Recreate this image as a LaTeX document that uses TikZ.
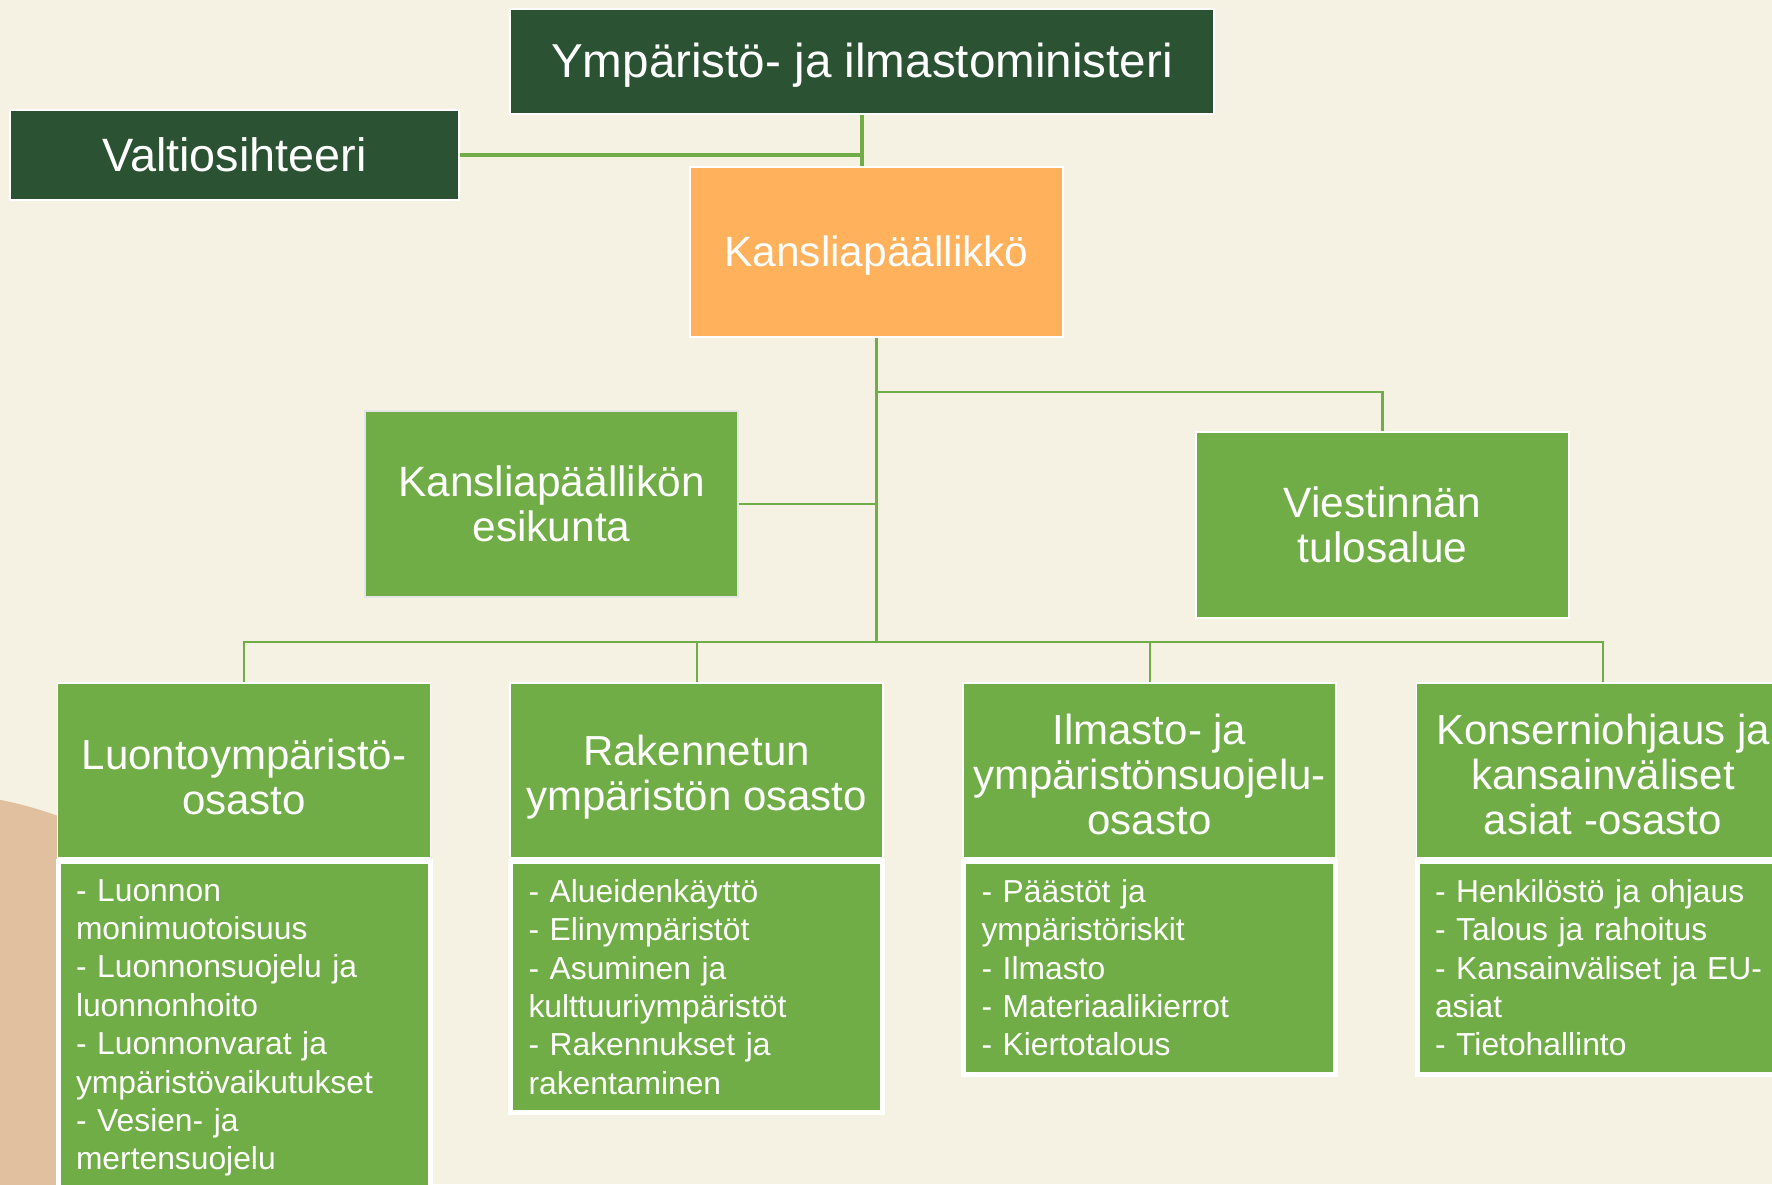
\documentclass[tikz,border=0pt]{standalone}
\usepackage{fontspec}
\setmainfont{Liberation Sans}
\definecolor{bgc}{HTML}{F5F1E3}
\definecolor{tanc}{HTML}{E0C09E}
\definecolor{darkg}{HTML}{2C5234}
\definecolor{midg}{HTML}{70AD47}
\definecolor{orangec}{HTML}{FFB15B}
\newcommand{\tstrut}[1]{\rule{0pt}{#1}}
\tikzset{
  box/.style={draw=white, line width=0.8pt, text=white, align=center, inner sep=0pt},
  topbox/.style={box, fill=darkg, minimum height=52.5pt},
  greenbox/.style={box, fill=midg, minimum width=186.5pt},
  deptbox/.style={greenbox, minimum height=87.5pt, font=\fontsize{21}{22.6}\selectfont},
  listbox/.style={draw=white, line width=2.5pt, fill=midg, text=white, align=left,
    anchor=north, text width=168pt, inner xsep=9pt, inner ysep=9pt,
    font=\fontsize{15.9}{19.2}\selectfont},
  conn/.style={draw=midg, line width=1.3pt},
}
\begin{document}
\begin{tikzpicture}[x=0.5pt,y=-0.5pt]
\useasboundingbox (0,0) rectangle (1772,1184);
\fill[bgc] (0,0) rectangle (1772,1184);
\begin{scope}
\clip (0,0) rectangle (1772,1184);
\fill[tanc] (-80,1200) circle[radius=204pt];

% nodes
\node[topbox, minimum width=352pt, font=\fontsize{23.8}{28}\selectfont] (min) at (862,61.5) {\tstrut{20.5pt}Ympäristö- ja ilmastoministeri};
\node[topbox, minimum width=224.5pt, minimum height=45pt, font=\fontsize{23.4}{28}\selectfont] (valt) at (234.5,155) {Valtiosihteeri};
\node[box, fill=orangec, minimum width=186.5pt, minimum height=85pt, font=\fontsize{21.2}{25}\selectfont] (kp) at (876.5,252) {\tstrut{18.5pt}Kansliapäällikkö};
\node[greenbox, draw=black!10, minimum height=93pt, font=\fontsize{21.2}{22.2}\selectfont] (esk) at (551.5,504) {Kansliapäällikön\\esikunta};
\node[greenbox, minimum height=93pt, font=\fontsize{21.2}{22.2}\selectfont] (vt) at (1382.5,525) {Viestinnän\\tulosalue};

\node[deptbox] (d1) at (244,770.5) {\tstrut{21.5pt}Luontoympäristö-\\osasto};
\node[deptbox] (d2) at (696.5,770.5) {\tstrut{21.5pt}Rakennetun\\ympäristön osasto};
\node[deptbox] (d3) at (1149.5,770.5) {\tstrut{19pt}Ilmasto- ja\\ympäristönsuojelu-\\osasto};
\node[deptbox] (d4) at (1603,770.5) {\tstrut{19pt}Konserniohjaus ja\\kansainväliset\\asiat -osasto};

\node[listbox] (l1) at (d1.south) {- Luonnon\\monimuotoisuus\\- Luonnonsuojelu ja\\luonnonhoito\\- Luonnonvarat ja\\ympäristövaikutukset\\- Vesien- ja\\mertensuojelu};
\node[listbox] (l2) at (d2.south) {- Alueidenkäyttö\\- Elinympäristöt\\- Asuminen ja\\kulttuuriympäristöt\\- Rakennukset ja\\rakentaminen};
\node[listbox] (l3) at (d3.south) {- Päästöt ja\\ympäristöriskit\\- Ilmasto\\- Materiaalikierrot\\- Kiertotalous};
\node[listbox] (l4) at (d4.south) {- Henkilöstö ja ohjaus\\- Talous ja rahoitus\\- Kansainväliset ja EU-\\asiat\\- Tietohallinto};

% connectors
\coordinate (j1) at (876.5,392);
\coordinate (bus) at (876.5,642);
\draw[conn, line width=2.2pt] (valt.east) -- (valt.east -| min.south);
\draw[conn, line width=2pt] (min.south) -- (min.south |- kp.north);
\draw[conn, line width=1.5pt] (kp.south) -- (bus);
\draw[conn, line width=1.2pt] (vt.north) |- (j1);
\draw[conn, line width=1.2pt] (esk.east) -- (esk.east -| kp.south);
\draw[conn, line width=1pt] (d1.north) |- (bus);
\draw[conn, line width=1pt] (d2.north) |- (bus);
\draw[conn, line width=1pt] (d3.north) |- (bus);
\draw[conn, line width=1pt] (d4.north) |- (bus);
\end{scope}
\end{tikzpicture}
\end{document}
